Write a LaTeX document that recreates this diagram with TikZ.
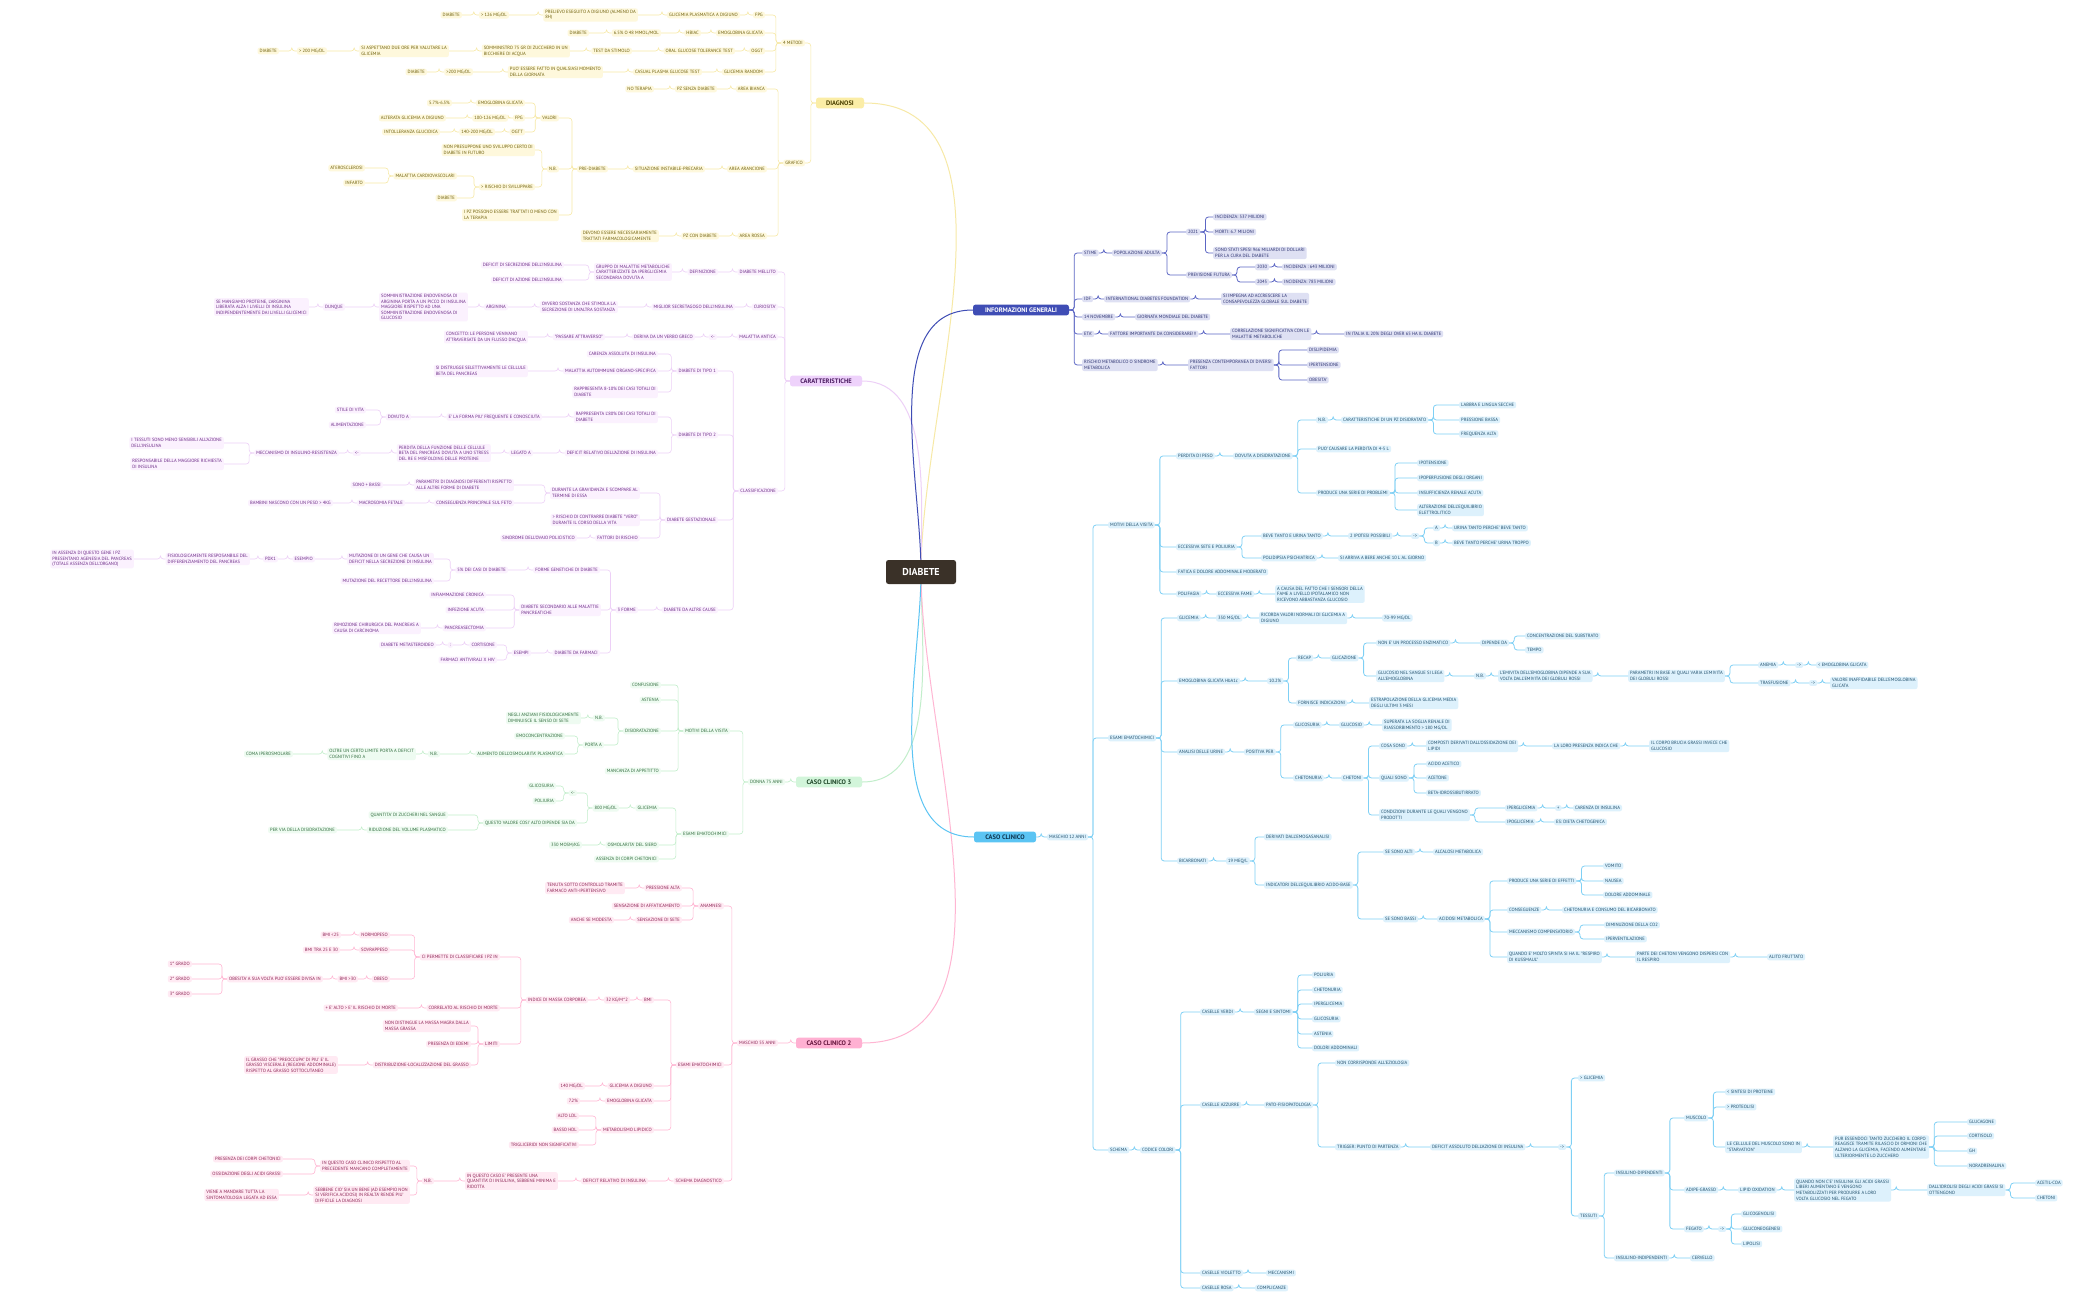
\documentclass[tikz,border=0pt]{standalone}
\usepackage{fontspec}
\setmainfont{PT Sans}
\definecolor{hubc}{RGB}{58,49,40}
\definecolor{yM}{RGB}{251,237,166}\definecolor{yT}{RGB}{110,95,10}\definecolor{yF}{RGB}{254,248,220}\definecolor{yL}{RGB}{247,233,166}\definecolor{yMT}{RGB}{74,63,0}
\definecolor{vM}{RGB}{238,210,251}\definecolor{vT}{RGB}{107,42,134}\definecolor{vF}{RGB}{251,241,254}\definecolor{vL}{RGB}{237,208,247}\definecolor{vMT}{RGB}{74,26,96}
\definecolor{gM}{RGB}{210,245,218}\definecolor{gT}{RGB}{47,107,60}\definecolor{gF}{RGB}{238,251,241}\definecolor{gL}{RGB}{194,238,203}\definecolor{gMT}{RGB}{30,70,40}
\definecolor{pM}{RGB}{255,176,210}\definecolor{pT}{RGB}{140,34,83}\definecolor{pF}{RGB}{255,234,243}\definecolor{pL}{RGB}{255,182,211}\definecolor{pMT}{RGB}{100,20,60}
\definecolor{iM}{RGB}{63,77,181}\definecolor{iT}{RGB}{43,49,112}\definecolor{iF}{RGB}{222,224,243}\definecolor{iL}{RGB}{92,102,196}
\definecolor{bM}{RGB}{91,196,243}\definecolor{bT}{RGB}{31,78,107}\definecolor{bF}{RGB}{221,241,252}\definecolor{bL}{RGB}{127,208,245}\definecolor{bMT}{RGB}{14,53,80}
\begin{document}
\newcommand\R[5]{\node[nd,anchor=west] (#1) at (#3,#4) {#5};\draw[ln] (#2.east) -- ++(5,0) |- (#1.west);}
\newcommand\Lf[5]{\node[nd,anchor=east] (#1) at (#3,#4) {#5};\draw[ln] (#2.west) -- ++(-5,0) |- (#1.east);}
\begin{tikzpicture}[x=1pt,y=-1pt,
 base/.style={rounded corners=2pt,inner xsep=2pt,inner ysep=1.6pt,align=left,font=\fontsize{4.6}{5.6}\selectfont},
 mainn/.style={rounded corners=2.5pt,inner xsep=5pt,inner ysep=3pt,font=\fontsize{6.5}{7}\selectfont\bfseries},
 ln/.style={rounded corners=3pt,line width=0.6pt}]
\useasboundingbox[fill=white] (0,0) rectangle (2099,1300);
\coordinate (hc) at (921,572);
\node[mainn,fill=yM,text=yMT,minimum width=48] (DG) at (840,103) {DIAGNOSI};
\node[mainn,fill=vM,text=vMT,minimum width=72] (CA) at (826,381) {CARATTERISTICHE};
\node[mainn,fill=gM,text=gMT,minimum width=66] (G3) at (829,782) {CASO CLINICO 3};
\node[mainn,fill=pM,text=pMT,minimum width=66] (P2) at (829,1043) {CASO CLINICO 2};
\node[mainn,fill=iM,text=white,minimum width=96] (IG) at (1021,310) {INFORMAZIONI GENERALI};
\node[mainn,fill=bM,text=bMT,minimum width=62] (CC) at (1005,837) {CASO CLINICO};
\draw[line width=1pt,yL] (hc) to[out=90,in=0,looseness=0.9] (DG.east);
\draw[line width=1pt,vL] (hc) to[out=90,in=0,looseness=0.9] (CA.east);
\draw[line width=1pt,gL] (hc) to[out=-90,in=0,looseness=0.9] (G3.east);
\draw[line width=1pt,pL] (hc) to[out=-90,in=0,looseness=0.9] (P2.east);
\draw[line width=1pt,iM] (hc) to[out=90,in=180,looseness=0.9] (IG.west);
\draw[line width=1pt,bM] (hc) to[out=-90,in=180,looseness=0.9] (CC.west);
\node[mainn,fill=hubc,text=white,font=\fontsize{10}{11}\selectfont\bfseries,minimum width=70,minimum height=24] (hub) at (hc) {DIABETE};
% ---------------- DIAGNOSI
\tikzset{nd/.style={base,fill=yF,text=yT},ln/.append style={draw=yL}}
\Lf{a1}{DG}{805}{43}{4 METODI}
\Lf{a2}{DG}{805}{163}{GRAFICO}
\Lf{a3}{a1}{765}{15}{FPG}
\Lf{a4}{a3}{740}{15}{GLICEMIA PLASMATICA A DIGIUNO}
\Lf{a5}{a4}{638}{15}{PRELIEVO ESEGUITO A DIGIUNO (ALMENO DA\\8H)}
\Lf{a6}{a5}{509}{15}{> 126 MG/DL}
\Lf{a7}{a6}{462}{15}{DIABETE}
\Lf{a8}{a1}{765}{33}{EMOGLOBINA GLICATA}
\Lf{a9}{a8}{701}{33}{HBIAC}
\Lf{a10}{a9}{661}{33}{6.5\% O 48 MMOL/MOL}
\Lf{a11}{a10}{589}{33}{DIABETE}
\Lf{a12}{a1}{765}{51}{OGGT}
\Lf{a13}{a12}{735}{51}{ORAL GLUCOSE TOLERANCE TEST}
\Lf{a14}{a13}{632}{51}{TEST DA STIMOLO}
\Lf{a15}{a14}{570}{51}{SOMMINISTRO 75 GR DI ZUCCHERO IN UN\\BICCHIERE DI ACQUA}
\Lf{a16}{a15}{449}{51}{SI ASPETTANO DUE ORE PER VALUTARE LA\\GLICEMIA}
\Lf{a17}{a16}{327}{51}{> 200 MG/DL}
\Lf{a18}{a17}{279}{51}{DIABETE}
\Lf{a19}{a1}{765}{72}{GLICEMIA RANDOM}
\Lf{a20}{a19}{702}{72}{CASUAL PLASMA GLUCOSE TEST}
\Lf{a21}{a20}{603}{72}{PUO' ESSERE FATTO IN QUALSIASI MOMENTO\\DELLA GIORNATA}
\Lf{a22}{a21}{473}{72}{>200 MG/DL}
\Lf{a23}{a22}{427}{72}{DIABETE}
\Lf{a24}{a2}{767}{89}{AREA BIANCA}
\Lf{a25}{a24}{717}{89}{PZ SENZA DIABETE}
\Lf{a26}{a25}{654}{89}{NO TERAPIA}
\Lf{a27}{a2}{767}{169}{AREA ARANCIONE}
\Lf{a28}{a27}{705}{169}{SITUAZIONE INSTABILE-PRECARIA}
\Lf{a29}{a28}{608}{169}{PRE-DIABETE}
\Lf{a30}{a29}{559}{118}{VALORI}
\Lf{a31}{a29}{559}{169}{N.B.}
\Lf{a32}{a29}{559}{215}{I PZ POSSONO ESSERE TRATTATI O MENO CON\\LA TERAPIA}
\Lf{a33}{a30}{525}{103}{EMOGLOBINA GLICATA}
\Lf{a34}{a33}{452}{103}{5.7\%-6.5\%}
\Lf{a35}{a30}{525}{118}{FPG}
\Lf{a36}{a35}{508}{118}{100-126 MG/DL}
\Lf{a37}{a36}{446}{118}{ALTERATA GLICEMIA A DIGIUNO}
\Lf{a38}{a30}{525}{132}{OGTT}
\Lf{a39}{a38}{495}{132}{140-200 MG/DL}
\Lf{a40}{a39}{440}{132}{INTOLLERANZA GLUCIDICA}
\Lf{a41}{a31}{535}{150}{NON PRESUPPONE UNO SVILUPPO CERTO DI\\DIABETE IN FUTURO}
\Lf{a42}{a31}{535}{187}{> RISCHIO DI SVILUPPARE}
\Lf{a43}{a42}{457}{176}{MALATTIA CARDIOVASCOLARI}
\Lf{a44}{a42}{457}{198}{DIABETE}
\Lf{a45}{a43}{365}{168}{ATEROSCLEROSI}
\Lf{a46}{a43}{365}{183}{INFARTO}
\Lf{a47}{a2}{767}{236}{AREA ROSSA}
\Lf{a48}{a47}{719}{236}{PZ CON DIABETE}
\Lf{a49}{a48}{659}{236}{DEVONO ESSERE NECESSARIAMENTE\\TRATTATI FARMACOLOGICAMENTE}
% ---------------- CARATTERISTICHE
\tikzset{nd/.style={base,fill=vF,text=vT},ln/.append style={draw=vL}}
\Lf{c1}{CA}{778}{272}{DIABETE MELLITO}
\Lf{c2}{CA}{778}{307}{CURIOSITA'}
\Lf{c3}{CA}{778}{337}{MALATTIA ANTICA}
\Lf{c4}{CA}{778}{491}{CLASSIFICAZIONE}
\Lf{c5}{c1}{718}{272}{DEFINIZIONE}
\Lf{c6}{c5}{672}{272}{GRUPPO DI MALATTIE METABOLICHE\\CARATTERIZZATE DA IPERGLICEMIA\\SECONDARIA DOVUTA A}
\Lf{c7}{c6}{564}{265}{DEFICIT DI SECREZIONE DELL'INSULINA}
\Lf{c8}{c6}{564}{280}{DEFICIT DI AZIONE DELL'INSULINA}
\Lf{c9}{c2}{735}{307}{MIGLIOR SECRETAGOGO DELL'INSULINA}
\Lf{c10}{c9}{618}{307}{OVVERO SOSTANZA CHE STIMOLA LA\\SECREZIONE DI UN'ALTRA SOSTANZA}
\Lf{c11}{c10}{508}{307}{ARGININA}
\Lf{c12}{c11}{468}{307}{SOMMINISTRAZIONE ENDOVENOSA DI\\ARGININA PORTA A UN PICCO DI INSULINA\\MAGGIORE RISPETTO AD UNA\\SOMMINISTRAZIONE ENDOVENOSA DI\\GLUCOSIO}
\Lf{c13}{c12}{345}{307}{DUNQUE}
\Lf{c14}{c13}{309}{307}{SE MANGIAMO PROTEINE, L'ARGININA\\LIBERATA ALZA I LIVELLI DI INSULINA\\INDIPENDENTEMENTE DAI LIVELLI GLICEMICI}
\Lf{c15}{c3}{717}{337}{<-}
\Lf{c16}{c15}{695}{337}{DERIVA DA UN VERBO GRECO}
\Lf{c17}{c16}{605}{337}{"PASSARE ATTRAVERSO"}
\Lf{c18}{c17}{528}{337}{CONCETTO: LE PERSONE VENIVANO\\ATTRAVERSATE DA UN FLUSSO D'ACQUA}
\Lf{c19}{c4}{718}{371}{DIABETE DI TIPO 1}
\Lf{c20}{c4}{718}{435}{DIABETE DI TIPO 2}
\Lf{c21}{c4}{718}{520}{DIABETE GESTAZIONALE}
\Lf{c22}{c4}{718}{610}{DIABETE DA ALTRE CAUSE}
\Lf{c23}{c19}{658}{354}{CARENZA ASSOLUTA DI INSULINA}
\Lf{c24}{c19}{658}{371}{MALATTIA AUTOIMMUNE ORGANO-SPECIFICA}
\Lf{c25}{c24}{528}{371}{SI DISTRUGGE SELETTIVAMENTE LE CELLULE\\BETA DEL PANCREAS}
\Lf{c26}{c19}{658}{392}{RAPPRESENTA 8-10\% DEI CASI TOTALI DI\\DIABETE}
\Lf{c27}{c20}{658}{417}{RAPPRESENTA L'80\% DEI CASI TOTALI DI\\DIABETE}
\Lf{c28}{c27}{542}{417}{E' LA FORMA PIU' FREQUENTE E CONOSCIUTA}
\Lf{c29}{c28}{411}{417}{DOVUTO A}
\Lf{c30}{c29}{366}{410}{STILE DI VITA}
\Lf{c31}{c29}{366}{425}{ALIMENTAZIONE}
\Lf{c32}{c20}{658}{453}{DEFICIT RELATIVO DELL'AZIONE DI INSULINA}
\Lf{c33}{c32}{533}{453}{LEGATO A}
\Lf{c34}{c33}{491}{453}{PERDITA DELLA FUNZIONE DELLE CELLULE\\BETA DEL PANCREAS DOVUTA A UNO STRESS\\DEL RE E MISFOLDING DELLE PROTEINE}
\Lf{c35}{c34}{361}{453}{<-}
\Lf{c36}{c35}{339}{453}{MECCANISMO DI INSULINO-RESISTENZA}
\Lf{c37}{c36}{224}{443}{I TESSUTI SONO MENO SENSIBILI ALL'AZIONE\\DELL'INSULINA}
\Lf{c38}{c36}{224}{464}{RESPONSABILE DELLA MAGGIORE RICHIESTA\\DI INSULINA}
\Lf{c39}{c21}{640}{493}{DURANTE LA GRAVIDANZA E SCOMPARE AL\\TERMINE DI ESSA}
\Lf{c40}{c39}{514}{485}{PARAMETRI DI DIAGNOSI DIFFERENTI RISPETTO\\ALLE ALTRE FORME DI DIABETE}
\Lf{c41}{c40}{383}{485}{SONO + BASSI}
\Lf{c42}{c39}{514}{503}{CONSEGUENZA PRINCIPALE SUL FETO}
\Lf{c43}{c42}{405}{503}{MACROSOMIA FETALE}
\Lf{c44}{c43}{333}{503}{BAMBINI NASCONO CON UN PESO > 4KG}
\Lf{c45}{c21}{640}{520}{> RISCHIO DI CONTRARRE DIABETE "VERO"\\DURANTE IL CORSO DELLA VITA}
\Lf{c46}{c21}{640}{538}{FATTORI DI RISCHIO}
\Lf{c47}{c46}{577}{538}{SINDROME DELL'OVAIO POLICISTICO}
\Lf{c48}{c22}{638}{610}{3 FORME}
\Lf{c49}{c48}{600}{570}{FORME GENETICHE DI DIABETE}
\Lf{c50}{c49}{508}{570}{5\% DEI CASI DI DIABETE}
\Lf{c51}{c50}{434}{559}{MUTAZIONE DI UN GENE CHE CAUSA UN\\DEFICIT NELLA SECREZIONE DI INSULINA}
\Lf{c52}{c51}{315}{559}{ESEMPIO}
\Lf{c53}{c52}{278}{559}{PDX1}
\Lf{c54}{c53}{250}{559}{FISIOLOGICAMENTE RESPOSANBILE DEL\\DIFFERENZIAMENTO DEL PANCREAS}
\Lf{c55}{c54}{134}{559}{IN ASSENZA DI QUESTO GENE I PZ\\PRESENTANO AGENESIA DEL PANCREAS\\(TOTALE ASSENZA DELL'ORGANO)}
\Lf{c56}{c50}{434}{581}{MUTAZIONE DEL RECETTORE DELL'INSULINA}
\Lf{c57}{c48}{601}{610}{DIABETE SECONDARIO ALLE MALATTIE\\PANCREATICHE}
\Lf{c58}{c57}{486}{595}{INFIAMMAZIONE CRONICA}
\Lf{c59}{c57}{486}{610}{INFEZIONE ACUTA}
\Lf{c60}{c57}{486}{628}{PANCREASECTOMIA}
\Lf{c61}{c60}{421}{628}{RIMOZIONE CHIRURGICA DEL PANCREAS A\\CAUSA DI CARCINOMA}
\Lf{c62}{c48}{600}{653}{DIABETE DA FARMACI}
\Lf{c63}{c62}{531}{653}{ESEMPI}
\Lf{c64}{c63}{497}{645}{CORTISONE}
\Lf{c65}{c64}{453}{645}{:}
\Lf{c66}{c65}{436}{645}{DIABETE METASTEROIDEO}
\Lf{c67}{c63}{497}{660}{FARMACI ANTIVIRALI X HIV}
% ---------------- CASO CLINICO 3
\tikzset{nd/.style={base,fill=gF,text=gT},ln/.append style={draw=gL}}
\Lf{g1}{G3}{785}{782}{DONNA 75 ANNI}
\Lf{g2}{g1}{730}{731}{MOTIVI DELLA VISITA}
\Lf{g3}{g1}{729}{834}{ESAMI EMATOCHIMICI}
\Lf{g4}{g2}{661}{685}{CONFUSIONE}
\Lf{g5}{g2}{661}{700}{ASTENIA}
\Lf{g6}{g2}{661}{731}{DISIDRATAZIONE}
\Lf{g7}{g2}{661}{771}{MANCANZA DI APPETITTO}
\Lf{g8}{g6}{605}{718}{N.B.}
\Lf{g9}{g8}{581}{718}{NEGLI ANZIANI FISIOLOGICAMENTE\\DIMINUISCE IL SENSO DI SETE}
\Lf{g10}{g6}{604}{745}{PORTA A}
\Lf{g11}{g10}{565}{736}{EMOCONCENTRAZIONE}
\Lf{g12}{g10}{565}{754}{AUMENTO DELL'OSMOLARITA' PLASMATICA}
\Lf{g13}{g12}{440}{754}{N.B.}
\Lf{g14}{g13}{416}{754}{OLTRE UN CERTO LIMITE PORTA A DEFICIT\\COGNITIVI FINO A}
\Lf{g15}{g14}{293}{754}{COMA IPEROSMOLARE}
\Lf{g16}{g3}{659}{808}{GLICEMIA}
\Lf{g17}{g16}{619}{808}{800 MG/DL}
\Lf{g18}{g17}{577}{793}{<-}
\Lf{g19}{g18}{556}{786}{GLICOSURIA}
\Lf{g20}{g18}{556}{801}{POLIURIA}
\Lf{g21}{g17}{577}{823}{QUESTO VALORE COSI' ALTO DIPENDE SIA DA}
\Lf{g22}{g21}{448}{815}{QUANTITA' DI ZUCCHERI NEL SANGUE}
\Lf{g23}{g21}{448}{830}{RIDUZIONE DEL VOLUME PLASMATICO}
\Lf{g24}{g23}{337}{830}{PER VIA DELLA DISIDRATAZIONE}
\Lf{g25}{g3}{659}{845}{OSMOLARITA' DEL SIERO}
\Lf{g26}{g25}{582}{845}{330 MOSM/KG}
\Lf{g27}{g3}{659}{859}{ASSENZA DI CORPI CHETONICI}
% ---------------- CASO CLINICO 2
\tikzset{nd/.style={base,fill=pF,text=pT},ln/.append style={draw=pL}}
\Lf{p1}{P2}{778}{1043}{MASCHIO 55 ANNI}
\Lf{p2}{p1}{724}{906}{ANAMNESI}
\Lf{p3}{p1}{724}{1065}{ESAMI EMATOCHIMICI}
\Lf{p4}{p1}{724}{1181}{SCHEMA DIAGNOSTICO}
\Lf{p5}{p2}{682}{888}{PRESSIONE ALTA}
\Lf{p6}{p5}{625}{888}{TENUTA SOTTO CONTROLLO TRAMITE\\FARMACO ANTI-IPERTENSIVO}
\Lf{p7}{p2}{682}{906}{SENSAZIONE DI AFFATICAMENTO}
\Lf{p8}{p2}{682}{920}{SENSAZIONE DI SETE}
\Lf{p9}{p8}{614}{920}{ANCHE SE MODESTA}
\Lf{p10}{p3}{654}{1000}{BMI}
\Lf{p11}{p10}{630}{1000}{32 KG/M\textasciicircum 2}
\Lf{p12}{p11}{588}{1000}{INDICE DI MASSA CORPOREA}
\Lf{p13}{p12}{500}{957}{CI PERMETTE DI CLASSIFICARE I PZ IN}
\Lf{p14}{p12}{500}{1008}{CORRELATO AL RISCHIO DI MORTE}
\Lf{p15}{p14}{398}{1008}{+ E' ALTO > E' IL RISCHIO DI MORTE}
\Lf{p16}{p12}{500}{1044}{LIMITI}
\Lf{p17}{p13}{390}{935}{NORMOPESO}
\Lf{p18}{p17}{341}{935}{BMI <25}
\Lf{p19}{p13}{390}{950}{SOVRAPPESO}
\Lf{p20}{p19}{340}{950}{BMI TRA 25 E 30}
\Lf{p21}{p13}{390}{979}{OBESO}
\Lf{p22}{p21}{358}{979}{BMI >30}
\Lf{p23}{p22}{323}{979}{OBESITA' A SUA VOLTA PUO' ESSERE DIVISA IN}
\Lf{p24}{p23}{192}{964}{1° GRADO}
\Lf{p25}{p23}{192}{979}{2° GRADO}
\Lf{p26}{p23}{192}{994}{3° GRADO}
\Lf{p27}{p16}{471}{1026}{NON DISTINGUE LA MASSA MAGRA DALLA\\MASSA GRASSA}
\Lf{p28}{p16}{471}{1044}{PRESENZA DI EDEMI}
\Lf{p29}{p16}{471}{1065}{DISTRIBUZIONE-LOCALIZZAZIONE DEL GRASSO}
\Lf{p30}{p29}{338}{1065}{IL GRASSO CHE "PREOCCUPA" DI PIU' E' IL\\GRASSO VISCERALE (REGIONE ADDOMINALE)\\RISPETTO AL GRASSO SOTTOCUTANEO}
\Lf{p31}{p3}{654}{1086}{GLICEMIA A DIGIUNO}
\Lf{p32}{p31}{585}{1086}{140 MG/DL}
\Lf{p33}{p3}{654}{1101}{EMOGLOBINA GLICATA}
\Lf{p34}{p33}{580}{1101}{7.2\%}
\Lf{p35}{p3}{654}{1130}{METABOLISMO LIPIDICO}
\Lf{p36}{p35}{579}{1116}{ALTO LDL}
\Lf{p37}{p35}{579}{1130}{BASSO HDL}
\Lf{p38}{p35}{579}{1145}{TRIGLICERIDI NON SIGNIFICATIVI}
\Lf{p39}{p4}{648}{1181}{DEFICIT RELATIVO DI INSULINA}
\Lf{p40}{p39}{558}{1181}{IN QUESTO CASO E' PRESENTE UNA\\QUANTITA' DI INSULINA, SEBBENE MINIMA E\\RIDOTTA}
\Lf{p41}{p40}{434}{1181}{N.B.}
\Lf{p42}{p41}{410}{1166}{IN QUESTO CASO CLINICO RISPETTO AL\\PRECEDENTE MANCANO COMPLETAMENTE}
\Lf{p43}{p42}{283}{1159}{PRESENZA DEI CORPI CHETONICI}
\Lf{p44}{p42}{283}{1174}{OSSIDAZIONE DEGLI ACIDI GRASSI}
\Lf{p45}{p41}{410}{1195}{SEBBENE CIO' SIA UN BENE (AD ESEMPIO NON\\SI VERIFICA ACIDOSI) IN REALTA' RENDE PIU'\\DIFFICILE LA DIAGNOSI}
\Lf{p46}{p45}{279}{1195}{VIENE A MANDARE TUTTA LA\\SINTOMATOLOGIA LEGATA AD ESSA}
% ---------------- INFORMAZIONI GENERALI
\tikzset{nd/.style={base,fill=iF,text=iT},ln/.append style={draw=iL,line width=0.8pt}}
\R{i1}{IG}{1082}{253}{STIME}
\R{i2}{IG}{1082}{299}{IDF}
\R{i3}{IG}{1082}{317}{14 NOVEMBRE}
\R{i4}{IG}{1082}{334}{ETA'}
\R{i5}{IG}{1082}{365}{RISCHIO METABOLICO O SINDROME\\METABOLICA}
\R{i6}{i1}{1112}{253}{POPOLAZIONE ADULTA}
\R{i7}{i6}{1186}{232}{2021}
\R{i8}{i6}{1186}{275}{PREVISIONE FUTURA}
\R{i9}{i7}{1213}{217}{INCIDENZA: 537 MILIONI}
\R{i10}{i7}{1213}{232}{MORTI: 6.7 MILIONI}
\R{i11}{i7}{1213}{253}{SONO STATI SPESI 966 MILIARDI DI DOLLARI\\PER LA CURA DEL DIABETE}
\R{i12}{i8}{1255}{267}{2030}
\R{i13}{i12}{1282}{267}{INCIDENZA : 643 MILIONI}
\R{i14}{i8}{1255}{282}{2045}
\R{i15}{i14}{1282}{282}{INCIDENZA: 783 MILIONI}
\R{i16}{i2}{1104}{299}{INTERNATIONAL DIABETES FOUNDATION}
\R{i17}{i16}{1221}{299}{SI IMPEGNA AD ACCRESCERE LA\\CONSAPEVOLEZZA GLOBALE SUL DIABETE}
\R{i18}{i3}{1135}{317}{GIORNATA MONDIALE DEL DIABETE}
\R{i19}{i4}{1108}{334}{FATTORE IMPORTANTE DA CONSIDERARE!!!}
\R{i20}{i19}{1230}{334}{CORRELAZIONE SIGNIFICATIVA CON LE\\MALATTIE METABOLICHE}
\R{i21}{i20}{1344}{334}{IN ITALIA IL 20\% DEGLI OVER 65 HA IL DIABETE}
\R{i22}{i5}{1188}{365}{PRESENZA CONTEMPORANEA DI DIVERSI\\FATTORI}
\R{i23}{i22}{1307}{350}{DISLIPIDEMIA}
\R{i24}{i22}{1307}{365}{IPERTENSIONE}
\R{i25}{i22}{1307}{380}{OBESITA'}
% ---------------- CASO CLINICO
\tikzset{nd/.style={base,fill=bF,text=bT},ln/.append style={draw=bL,line width=0.8pt}}
\R{b1}{CC}{1047}{837}{MASCHIO 12 ANNI}
\R{b2}{b1}{1108}{525}{MOTIVI DELLA VISITA}
\R{b3}{b1}{1108}{738}{ESAMI EMATOCHIMICI}
\R{b4}{b1}{1108}{1150}{SCHEMA}
\R{b5}{b2}{1176}{456}{PERDITA DI PESO}
\R{b6}{b5}{1233}{456}{DOVUTA A DISIDRATAZIONE}
\R{b7}{b6}{1316}{420}{N.B.}
\R{b8}{b7}{1341}{420}{CARATTERISTICHE DI UN PZ DISIDRATATO}
\R{b9}{b8}{1459}{405}{LABBRA E LINGUA SECCHE}
\R{b10}{b8}{1459}{420}{PRESSIONE BASSA}
\R{b11}{b8}{1459}{434}{FREQUENZA ALTA}
\R{b12}{b6}{1316}{449}{PUO' CAUSARE LA PERDITA DI 4-5 L}
\R{b13}{b6}{1316}{493}{PRODUCE UNA SERIE DI PROBLEMI}
\R{b14}{b13}{1417}{463}{IPOTENSIONE}
\R{b15}{b13}{1417}{478}{IPOPERFUSIONE DEGLI ORGANI}
\R{b16}{b13}{1417}{493}{INSUFFICIENZA RENALE ACUTA}
\R{b17}{b13}{1417}{510}{ALTERAZIONE DELL'EQUILIBRIO\\ELETTROLITICO}
\R{b18}{b2}{1176}{547}{ECCESSIVA SETE E POLIURIA}
\R{b19}{b18}{1261}{536}{BEVE TANTO E URINA TANTO}
\R{b20}{b19}{1348}{536}{2 IPOTESI POSSIBILI}
\R{b21}{b20}{1411}{536}{->}
\R{b22}{b21}{1433}{528}{A}
\R{b23}{b22}{1452}{528}{URINA TANTO PERCHE' BEVE TANTO}
\R{b24}{b21}{1433}{543}{B}
\R{b25}{b24}{1452}{543}{BEVE TANTO PERCHE' URINA TROPPO}
\R{b26}{b18}{1261}{558}{POLIDIPSIA PSICHIATRICA}
\R{b27}{b26}{1338}{558}{SI ARRIVA A BERE ANCHE 10 L AL GIORNO}
\R{b28}{b2}{1176}{572}{FATICA E DOLORE ADDOMINALE MODERATO}
\R{b29}{b2}{1176}{594}{POLIFAGIA}
\R{b30}{b29}{1216}{594}{ECCESSIVA FAME}
\R{b31}{b30}{1275}{594}{A CAUSA DEL FATTO CHE I SENSORI DELLA\\FAME A LIVELLO IPOTALAMICO NON\\RICEVONO ABBASTANZA GLUCOSIO}
\R{b32}{b3}{1177}{618}{GLICEMIA}
\R{b33}{b32}{1216}{618}{350 MG/DL}
\R{b34}{b33}{1259}{618}{RICORDA VALORI NORMALI DI GLICEMIA A\\DIGIUNO}
\R{b35}{b34}{1382}{618}{70-99 MG/DL}
\R{b36}{b3}{1177}{681}{EMOGLOBINA GLICATA HbA1c}
\R{b37}{b36}{1267}{681}{10.2\%}
\R{b38}{b37}{1296}{658}{RECAP}
\R{b39}{b38}{1330}{658}{GLICAZIONE}
\R{b40}{b39}{1376}{643}{NON E' UN PROCESSO ENZIMATICO}
\R{b41}{b40}{1480}{643}{DIPENDE DA}
\R{b42}{b41}{1525}{636}{CONCENTRAZIONE DEL SUBSTRATO}
\R{b43}{b41}{1525}{650}{TEMPO}
\R{b44}{b39}{1376}{676}{GLUCOSIO NEL SANGUE SI LEGA\\ALL'EMOGLOBINA}
\R{b45}{b44}{1474}{676}{N.B.}
\R{b46}{b45}{1498}{676}{L'EMIVITA DELL'EMOGLOBINA DIPENDE A SUA\\VOLTA DALL'EMIVITA DEI GLOBULI ROSSI}
\R{b47}{b46}{1628}{676}{PARAMETRI IN BASE AI QUALI VARIA L'EMIVITA\\DEI GLOBULI ROSSI}
\R{b48}{b47}{1758}{665}{ANEMIA}
\R{b49}{b48}{1795}{665}{->}
\R{b50}{b49}{1816}{665}{< EMOGLOBINA GLICATA}
\R{b51}{b47}{1758}{683}{TRASFUSIONE}
\R{b52}{b51}{1809}{683}{->}
\R{b53}{b52}{1830}{683}{VALORE INAFFIDABILE DELL'EMOGLOBINA\\GLICATA}
\R{b54}{b37}{1296}{703}{FORNISCE INDICAZIONI}
\R{b55}{b54}{1369}{703}{ESTRAPOLAZIONE DELLA GLICEMIA MEDIA\\DEGLI ULTIMI 3 MESI}
\R{b56}{b3}{1177}{752}{ANALISI DELLE URINE}
\R{b57}{b56}{1244}{752}{POSITIVA PER}
\R{b58}{b57}{1293}{725}{GLICOSURIA}
\R{b59}{b58}{1339}{725}{GLUCOSIO}
\R{b60}{b59}{1382}{725}{SUPERATA LA SOGLIA RENALE DI\\RIASSORBIMENTO > 180 MG/DL}
\R{b61}{b57}{1293}{778}{CHETONURIA}
\R{b62}{b61}{1341}{778}{CHETONI}
\R{b63}{b62}{1379}{746}{COSA SONO}
\R{b64}{b63}{1426}{746}{COMPOSTI DERIVATI DALL'OSSIDAZIONE DEI\\LIPIDI}
\R{b65}{b64}{1552}{746}{LA LORO PRESENZA INDICA CHE}
\R{b66}{b65}{1649}{746}{IL CORPO BRUCIA GRASSI INVECE CHE\\GLUCOSIO}
\R{b67}{b62}{1379}{778}{QUALI SONO}
\R{b68}{b67}{1426}{764}{ACIDO ACETICO}
\R{b69}{b67}{1426}{778}{ACETONE}
\R{b70}{b67}{1426}{793}{BETA-IDROSSIBUTIRRATO}
\R{b71}{b62}{1379}{815}{CONDIZIONI DURANTE LE QUALI VENGONO\\PRODOTTI}
\R{b72}{b71}{1505}{808}{IPERGLICEMIA}
\R{b73}{b72}{1555}{808}{+}
\R{b74}{b73}{1573}{808}{CARENZA DI INSULINA}
\R{b75}{b71}{1505}{822}{IPOGLICEMIA}
\R{b76}{b75}{1554}{822}{ES: DIETA CHETOGENICA}
\R{b77}{b3}{1177}{861}{BICARBONATI}
\R{b78}{b77}{1226}{861}{19 MEQ/L}
\R{b79}{b78}{1264}{837}{DERIVATI DALL'EMOGASANALISI}
\R{b80}{b78}{1264}{885}{INDICATORI DELL'EQUILIBRIO ACIDO-BASE}
\R{b81}{b80}{1383}{852}{SE SONO ALTI}
\R{b82}{b81}{1433}{852}{ALCALOSI METABOLICA}
\R{b83}{b80}{1383}{919}{SE SONO BASSI}
\R{b84}{b83}{1437}{919}{ACIDOSI METABOLICA}
\R{b85}{b84}{1507}{881}{PRODUCE UNA SERIE DI EFFETTI}
\R{b86}{b85}{1603}{866}{VOMITO}
\R{b87}{b85}{1603}{881}{NAUSEA}
\R{b88}{b85}{1603}{895}{DOLORE ADDOMINALE}
\R{b89}{b84}{1507}{910}{CONSEGUENZE}
\R{b90}{b89}{1562}{910}{CHETONURIA E CONSUMO DEL BICARBONATO}
\R{b91}{b84}{1507}{932}{MECCANISMO COMPENSATORIO}
\R{b92}{b91}{1604}{925}{DIMINUZIONE DELLA CO2}
\R{b93}{b91}{1604}{939}{IPERVENTILAZIONE}
\R{b94}{b84}{1507}{957}{QUANDO E' MOLTO SPINTA SI HA IL "RESPIRO\\DI KUSSMAUL"}
\R{b95}{b94}{1635}{957}{PARTE DEI CHETONI VENGONO DISPERSI CON\\IL RESPIRO}
\R{b96}{b95}{1767}{957}{ALITO FRUTTATO}
\R{b97}{b4}{1140}{1150}{CODICE COLORI}
\R{b98}{b97}{1200}{1012}{CASELLE VERDI}
\R{b99}{b98}{1254}{1012}{SEGNI E SINTOMI}
\R{c100}{b99}{1312}{975}{POLIURIA}
\R{c101}{b99}{1312}{990}{CHETONURIA}
\R{c102}{b99}{1312}{1004}{IPERGLICEMIA}
\R{c103}{b99}{1312}{1019}{GLICOSURIA}
\R{c104}{b99}{1312}{1034}{ASTENIA}
\R{c105}{b99}{1312}{1048}{DOLORI ADDOMINALI}
\R{c106}{b97}{1200}{1105}{CASELLE AZZURRE}
\R{c107}{c106}{1264}{1105}{PATO-FISIOPATOLOGIA}
\R{c108}{c107}{1335}{1063}{NON CORRISPONDE ALL'EZIOLOGIA}
\R{c109}{c107}{1335}{1147}{TRIGGER: PUNTO DI PARTENZA}
\R{c110}{c109}{1430}{1147}{DEFICIT ASSOLUTO DELL'AZIONE DI INSULINA}
\R{c111}{c110}{1558}{1147}{->}
\R{c112}{c111}{1578}{1078}{> GLICEMIA}
\R{c113}{c111}{1578}{1216}{TESSUTI}
\R{c114}{c113}{1614}{1173}{INSULINO-DIPENDENTI}
\R{c115}{c113}{1614}{1258}{INSULINO-INDIPENDENTI}
\R{c116}{c115}{1690}{1258}{CERVELLO}
\R{c117}{c114}{1684}{1118}{MUSCOLO}
\R{c118}{c117}{1725}{1092}{< SINTESI DI PROTEINE}
\R{c119}{c117}{1725}{1107}{> PROTEOLISI}
\R{c120}{c117}{1725}{1147}{LE CELLULE DEL MUSCOLO SONO IN\\"STARVATION"}
\R{c121}{c120}{1833}{1147}{PUR ESSENDOCI TANTO ZUCCHERO IL CORPO\\REAGISCE TRAMITE RILASCIO DI ORMONI CHE\\ALZANO LA GLICEMIA, FACENDO AUMENTARE\\ULTERIORMENTE LO ZUCCHERO}
\R{c122}{c121}{1967}{1122}{GLUCAGONE}
\R{c123}{c121}{1967}{1136}{CORTISOLO}
\R{c124}{c121}{1967}{1151}{GH}
\R{c125}{c121}{1967}{1166}{NORADRENALINA}
\R{c126}{c114}{1684}{1190}{ADIPE-GRASSO}
\R{c127}{c126}{1738}{1190}{LIPID OXIDATION}
\R{c128}{c127}{1794}{1190}{QUANDO NON C'E' INSULINA GLI ACIDI GRASSI\\LIBERI AUMENTANO E VENGONO\\METABOLIZZATI PER PRODURRE A LORO\\VOLTA GLUCOSIO NEL FEGATO}
\R{c129}{c128}{1927}{1190}{DALL'IDROLISI DEGLI ACIDI GRASSI SI\\OTTENGONO}
\R{c130}{c129}{2035}{1183}{ACETIL-COA}
\R{c131}{c129}{2035}{1198}{CHETONI}
\R{c132}{c114}{1684}{1229}{FEGATO}
\R{c133}{c132}{1718}{1229}{->}
\R{c134}{c133}{1741}{1214}{GLICOGENOLISI}
\R{c135}{c133}{1741}{1229}{GLUCONEOGENESI}
\R{c136}{c133}{1741}{1244}{LIPOLISI}
\R{c137}{b97}{1200}{1273}{CASELLE VIOLETTO}
\R{c138}{c137}{1266}{1273}{MECCANISMI}
\R{c139}{b97}{1200}{1288}{CASELLE ROSA}
\R{c140}{c139}{1255}{1288}{COMPLICANZE}
\end{tikzpicture}
\end{document}
